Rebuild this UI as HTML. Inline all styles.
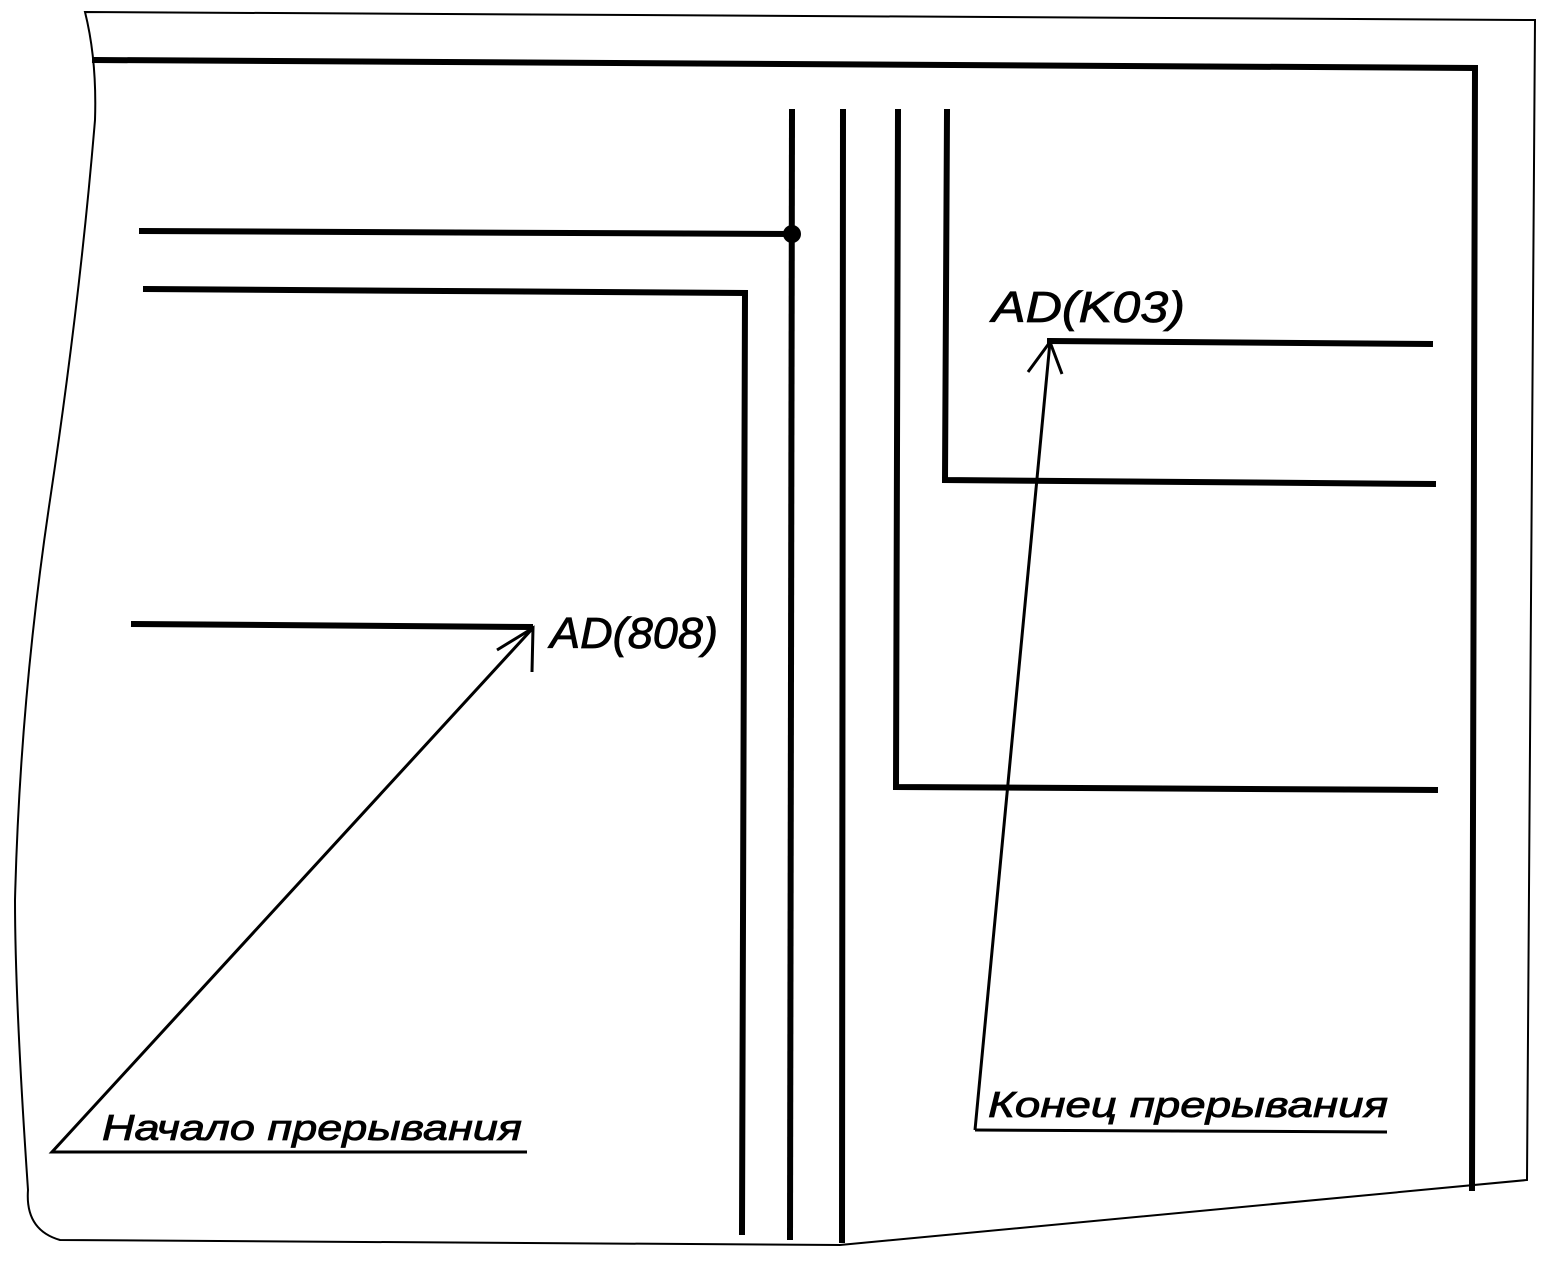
<!DOCTYPE html>
<html><head><meta charset="utf-8"><style>
html,body{margin:0;padding:0;background:#fff;width:1545px;height:1268px;overflow:hidden}
svg{display:block}
text{font-family:"Liberation Sans",sans-serif;font-style:italic;fill:#000;stroke:#000;stroke-width:0.8}
</style></head><body>
<svg width="1545" height="1268" viewBox="0 0 1545 1268" xmlns="http://www.w3.org/2000/svg">
<g fill="none" stroke="#000" stroke-width="2">
<path d="M85,12 L1535,20 L1527,1180 L840,1245 L60,1240 Q25,1230 28,1190 Q15,1000 15,900 Q20,700 50,500 Q80,300 95,120 Q97,60 85,12 Z"/>
</g>
<g fill="none" stroke="#000" stroke-width="6" stroke-linecap="square">
<polyline points="95,60 1475,68 1472,1188"/>
<line x1="792" y1="112" x2="790" y2="1237"/>
<line x1="843" y1="112" x2="842" y2="1240"/>
<polyline points="898,112 896,787 1435,790"/>
<polyline points="947,112 945,480 1433,484"/>
<line x1="142" y1="231" x2="792" y2="234"/>
<polyline points="146,289 745,293 742,1232"/>
<line x1="134" y1="624" x2="530" y2="627"/>
<line x1="1050" y1="341" x2="1430" y2="344"/>
</g>
<circle cx="792" cy="234" r="9" fill="#000"/>
<g fill="none" stroke="#000" stroke-width="3">
<polyline points="527,1152 52,1152 533,628"/>
<polyline points="497,650 533,628 532,672"/>
<polyline points="975,1130 1050,342"/>
<polyline points="975,1130 1387,1132"/>
<polyline points="1028,372 1050,342 1062,374"/>
</g>
<text x="550" y="648" font-size="44" textLength="168" lengthAdjust="spacingAndGlyphs">AD(808)</text>
<text x="992" y="322" font-size="44" textLength="193" lengthAdjust="spacingAndGlyphs">AD(K03)</text>
<text x="102" y="1140" font-size="36" textLength="420" lengthAdjust="spacingAndGlyphs">Начало прерывания</text>
<text x="988" y="1117" font-size="36" textLength="400" lengthAdjust="spacingAndGlyphs">Конец прерывания</text>
</svg>
</body></html>
